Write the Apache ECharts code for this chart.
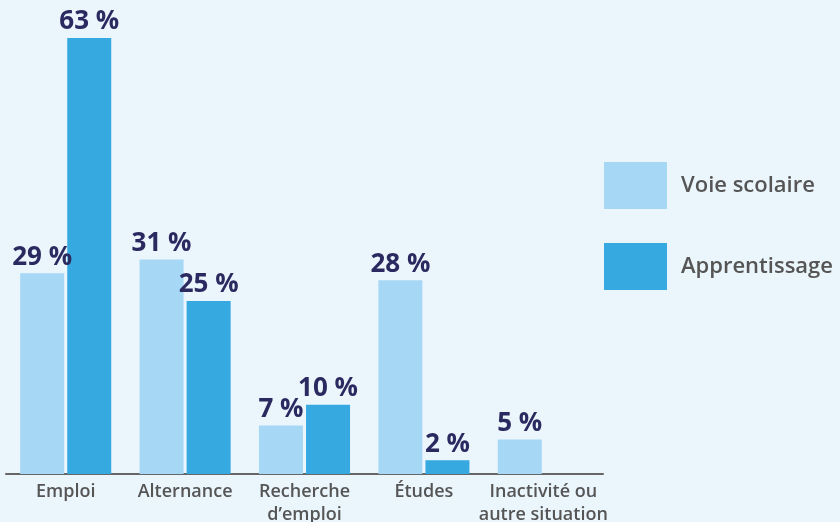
<!DOCTYPE html>
<html>
<head>
<meta charset="utf-8">
<script src="https://cdn.jsdelivr.net/npm/echarts@6/dist/echarts.min.js"></script>
<style>
    html, body { margin: 0; padding: 0; background: #ebf5fc; }
    #chart { width: 840px; height: 522px; }
</style>
</head>
<body>
<div id="chart"></div>
<script>
    const categories = ["Emploi", "Alternance", "Recherche\nd’emploi", "Études", "Inactivité ou\nautre situation"];
    const voieScolaire = [29, 31, 7, 28, 5];
    const apprentissage = [63, 25, 10, 2, "-"];

    const myChart = echarts.init(document.getElementById("chart"));

    const labelStyle = {
        show: true,
        position: "top",
        distance: 3,
        formatter: "{c} %",
        color: "#2b2a60",
        fontFamily: "Open Sans",
        fontWeight: "bold",
        fontSize: 26,
    };

    const option = {
        backgroundColor: "#ebf5fc",
        grid: {
            left: 6,
            right: 237,
            top: 38,
            bottom: 48,
            outerBoundsMode: "none",
            containLabel: false,
        },
        legend: {
            orient: "vertical",
            left: 604,
            top: 162,
            padding: 0,
            itemWidth: 63,
            itemHeight: 47,
            itemGap: 34,
            icon: "rect",
            textStyle: {
                color: "#555",
                fontFamily: "Open Sans",
                fontWeight: 600,
                fontSize: 22,
                padding: [0, 0, 0, 9],
            },
        },
        xAxis: {
            type: "category",
            data: categories,
            axisLine: {
                lineStyle: { color: "#666", width: 2 },
            },
            axisTick: { show: false },
            axisLabel: {
                interval: 0,
                color: "#555",
                fontFamily: "Open Sans",
                fontWeight: 600,
                fontSize: 18,
                lineHeight: 23,
                margin: 6,
            },
        },
        yAxis: {
            type: "value",
            min: 0,
            max: 63,
            show: false,
        },
        series: [{
            name: "Voie scolaire",
            type: "bar",
            data: voieScolaire,
            barWidth: 44,
            barGap: "7%",
            itemStyle: { color: "#a6d8f6" },
            label: labelStyle,
        }, {
            name: "Apprentissage",
            type: "bar",
            data: apprentissage,
            barWidth: 44,
            itemStyle: { color: "#36a9e1" },
            label: labelStyle,
        }],
    };
    myChart.setOption(option);
</script>
</body>
</html>
